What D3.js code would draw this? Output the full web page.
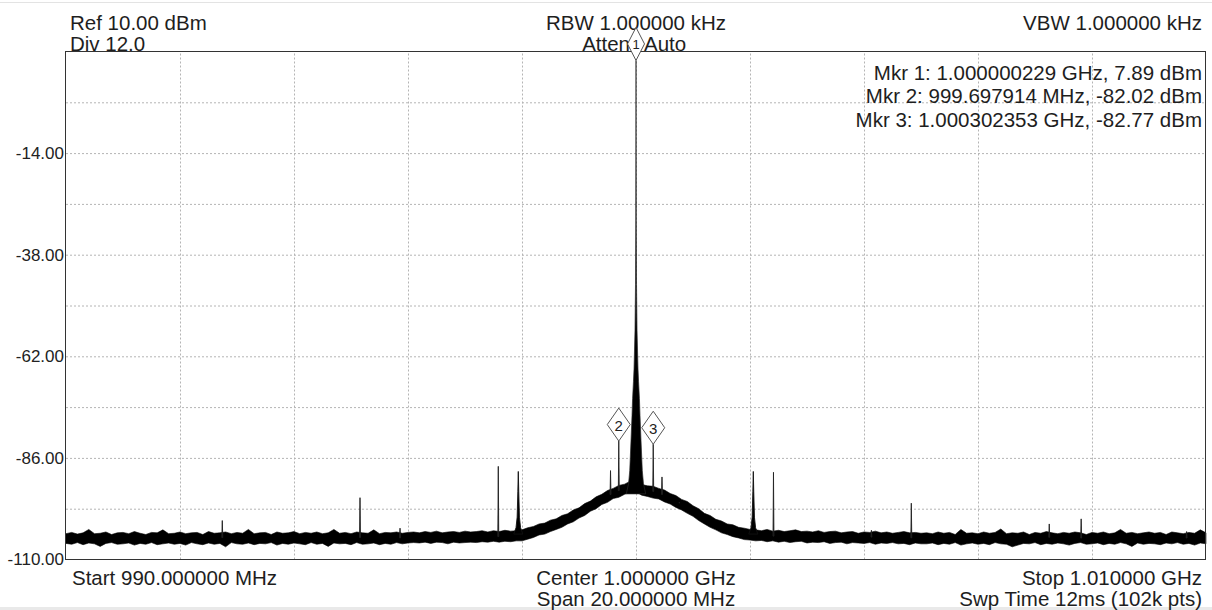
<!DOCTYPE html>
<html>
<head>
<meta charset="utf-8">
<script src="https://cdn.jsdelivr.net/npm/d3@7"></script>
<style>
html,body{margin:0;padding:0;background:#fff;}
svg{display:block;font-family:"Liberation Sans",Arial,Helvetica,sans-serif;}
</style>
</head>
<body>
<svg id="chart" width="1212" height="610"></svg>
<script>
// ---------------- data ----------------
const freqStart = 990, freqStop = 1010;            // MHz
const levelTop = 10, levelBottom = -110, levelDiv = 12; // dBm
const freqGridValues = [990, 992, 994, 996, 998, 1000, 1002, 1004, 1006, 1008, 1010];
const levelGridValues = [-110, -98, -86, -74, -62, -50, -38, -26, -14, -2, 10];
const yTickValues = [-14, -38, -62, -86, -110];
const yTickLabels = ["-14.00", "-38.00", "-62.00", "-86.00", "-110.00"];

const headerLeft = ["Ref 10.00 dBm", "Div 12.0"];
const headerCenter = ["RBW 1.000000 kHz", "Atten Auto"];
const headerRight = ["VBW 1.000000 kHz"];
const footerLeft = ["Start 990.000000 MHz"];
const footerCenter = ["Center 1.000000 GHz", "Span 20.000000 MHz"];
const footerRight = ["Stop 1.010000 GHz", "Swp Time 12ms (102k pts)"];

const markerIds = [1, 2, 3];
const markerFreq = [1000.000229, 999.697914, 1000.302353];   // MHz
const markerLevel = [7.89, -82.02, -82.77];                   // dBm
const markerLabels = [
  "Mkr 1: 1.000000229 GHz, 7.89 dBm",
  "Mkr 2: 999.697914 MHz, -82.02 dBm",
  "Mkr 3: 1.000302353 GHz, -82.77 dBm"
];

// trace envelope (max / min dBm) sampled every 0.1 MHz from 990 to 1010 MHz
const bandStep = 0.1;
const bandMax = [
 -103.9,-103.6,-104.0,-103.7,-102.9,-103.9,-103.8,-103.5,-104.1,-103.7,
 -103.6,-103.9,-103.4,-103.8,-104.1,-103.6,-103.7,-103.0,-103.9,-103.8,
 -103.5,-103.9,-103.7,-103.6,-104.1,-103.4,-103.8,-103.7,-103.5,-103.9,
 -103.6,-103.8,-102.9,-103.9,-103.7,-103.6,-104.1,-103.5,-103.8,-103.7,
 -103.4,-103.9,-103.6,-103.8,-103.5,-103.9,-103.7,-102.9,-103.8,-103.6,
 -103.9,-103.5,-103.7,-103.8,-103.0,-103.9,-103.6,-103.7,-103.5,-103.8,
 -103.6,-103.5,-103.7,-103.4,-103.6,-103.3,-103.7,-103.5,-103.4,-103.6,
 -103.3,-103.5,-103.4,-103.2,-103.5,-103.2,-103.4,-103.1,-103.3,-103.2,
 -103.0,-102.5,-102.2,-101.6,-101.4,-100.7,-100.4,-99.6,-99.2,-98.3,
 -97.8,-96.8,-96.2,-95.2,-94.6,-93.7,-93.2,-92.5,-92.2,-91.5,
 -91.5,-92.3,-92.6,-92.7,-93.2,-93.6,-94.4,-94.9,-95.8,-96.3,
 -97.3,-98.0,-99.1,-99.6,-100.5,-100.9,-101.6,-101.8,-102.4,-102.6,
 -102.9,-103.0,-103.2,-102.9,-103.3,-103.1,-103.4,-103.2,-103.0,-103.4,
 -103.3,-103.5,-103.2,-103.6,-103.4,-103.3,-103.7,-103.5,-103.4,-103.8,
 -103.5,-103.6,-103.3,-103.7,-103.5,-103.8,-103.6,-103.4,-103.7,-103.6,
 -103.8,-103.7,-103.9,-103.5,-103.8,-103.6,-104.1,-102.9,-103.8,-103.7,
 -103.9,-103.5,-103.8,-103.6,-102.8,-103.9,-103.7,-103.8,-103.5,-104.1,
 -103.6,-103.8,-103.4,-103.7,-103.9,-103.6,-103.8,-103.5,-103.7,-104.1,
 -103.6,-103.8,-103.5,-103.9,-103.7,-102.9,-103.8,-103.6,-103.9,-103.7,
 -103.5,-103.8,-103.6,-104.1,-103.5,-103.7,-103.9,-103.6,-103.8,-103.0,
 -103.7
];
const bandMin = [
 -106.2,-106.4,-106.0,-106.5,-106.1,-106.3,-106.9,-106.2,-106.0,-106.4,
 -106.3,-106.1,-106.6,-106.2,-106.4,-106.0,-106.5,-106.3,-106.1,-106.4,
 -106.2,-106.6,-106.0,-106.3,-106.5,-106.1,-106.4,-106.2,-107.0,-106.0,
 -106.3,-106.4,-106.1,-106.5,-106.2,-106.3,-106.0,-106.6,-106.2,-106.4,
 -106.1,-106.3,-106.5,-106.0,-106.4,-106.2,-106.9,-106.1,-106.3,-106.2,
 -106.5,-106.0,-106.4,-106.3,-106.1,-106.5,-106.2,-106.4,-106.0,-106.3,
 -106.1,-106.0,-106.1,-105.9,-106.2,-105.9,-106.0,-106.3,-105.9,-106.1,
 -106.0,-105.9,-106.0,-105.8,-105.9,-105.7,-105.9,-105.7,-105.8,-105.6,
 -105.6,-105.2,-104.8,-104.2,-104.0,-103.4,-102.9,-102.4,-101.6,-101.1,
 -100.2,-99.6,-98.6,-98.0,-97.0,-96.5,-95.6,-95.3,-94.6,-94.2,
 -94.0,-94.8,-95.1,-95.5,-95.7,-96.4,-96.9,-97.7,-98.3,-99.1,
 -99.8,-100.8,-101.6,-102.4,-103.0,-103.7,-104.1,-104.6,-104.9,-105.3,
 -105.4,-105.6,-105.5,-105.8,-105.6,-105.9,-105.7,-106.0,-105.8,-105.7,
 -106.1,-105.9,-106.0,-105.8,-106.2,-106.0,-105.9,-106.3,-106.0,-106.1,
 -106.2,-106.0,-106.4,-106.1,-106.2,-106.0,-106.3,-106.2,-106.5,-106.1,
 -106.3,-106.3,-106.1,-106.5,-106.2,-106.4,-106.0,-106.6,-106.3,-106.1,
 -106.4,-106.2,-106.5,-106.0,-106.3,-106.4,-107.0,-106.6,-106.2,-106.3,
 -106.0,-106.5,-106.2,-106.4,-106.1,-106.3,-106.6,-106.2,-106.0,-106.4,
 -106.3,-106.1,-106.5,-106.2,-106.4,-106.0,-106.3,-106.9,-106.1,-106.4,
 -106.2,-106.3,-106.5,-106.1,-106.3,-106.0,-106.4,-106.2,-106.6,-106.1,
 -106.3
];

// carrier (marker 1) shape: offset from carrier in MHz, level in dBm
const carrierOffset = [-0.17,-0.13,-0.11,-0.088,-0.07,-0.06,-0.045,-0.035,-0.018,-0.009,-0.004,-0.0015,0,
                       0.0015,0.004,0.009,0.018,0.035,0.045,0.06,0.07,0.088,0.11,0.13,0.17];
const carrierLevel  = [-94.5,-92.0,-89.0,-82.0,-76.0,-72.0,-68.0,-65.0,-56.0,-45.0,-30.0,-10.0,7.89,
                       -10.0,-30.0,-45.0,-56.0,-65.0,-68.0,-72.0,-76.0,-82.0,-89.0,-92.0,-94.5];

// narrow spurs
const spurFreq  = [992.742, 995.158, 995.86, 997.584, 999.553, 999.697914, 1000.302353, 1000.456, 1000.76, 1002.412, 1004.13, 1004.83, 1007.25, 1007.81, 1009.66];
const spurLevel = [-100.8, -95.4, -102.6, -88.0, -89.0, -82.02, -82.77, -90.5, -96.5, -89.4, -103.1, -96.7, -101.6, -100.4, -103.4];

// wider spurs (offset MHz -> level dBm)
const wideSpurFreq = [997.935, 1002.058];
const wideSpurOffset = [-0.08, -0.04, -0.02, -0.008, 0, 0.008, 0.02, 0.04, 0.08];
const wideSpurLevelA = [-104.0, -102.5, -100.0, -94.0, -89.2, -94.0, -100.0, -102.5, -104.0];
const wideSpurLevelB = [-104.0, -102.5, -100.0, -94.0, -89.2, -94.0, -100.0, -102.5, -104.0];

// ---------------- drawing ----------------
const W = 1212, H = 610;
const plotL = 66, plotR = 1206, plotT = 51.5, plotB = 559.5;
const FONT = 20.5;
const svg = d3.select("#chart");

const x = d3.scaleLinear().domain([freqStart, freqStop]).range([plotL, plotR]);
const y = d3.scaleLinear().domain([levelBottom, levelTop]).range([plotB, plotT]);

// page edge lines
svg.append("rect").attr("x", 0).attr("y", 2).attr("width", W).attr("height", 1).attr("fill", "#e3e3e3");
svg.append("rect").attr("x", 0).attr("y", 607).attr("width", W).attr("height", 3).attr("fill", "#e9e9e9");

// grid via axes
const gridY = svg.append("g").attr("transform", `translate(${plotL},0)`)
  .call(d3.axisLeft(y).tickValues(levelGridValues.slice(1, -1)).tickSize(-(plotR - plotL)).tickFormat(""));
const gridX = svg.append("g").attr("transform", `translate(0,${plotB})`)
  .call(d3.axisBottom(x).tickValues(freqGridValues.slice(1, -1)).tickSize(-(plotB - plotT)).tickFormat(""));
[gridY, gridX].forEach(g => {
  g.select(".domain").remove();
  g.selectAll(".tick line").attr("stroke", "#b4b4b4").attr("stroke-dasharray", "2,2").attr("stroke-width", 1);
});

// y labels
const yAx = svg.append("g").attr("transform", `translate(${plotL - 2},0)`)
  .call(d3.axisLeft(y).tickValues(yTickValues).tickSize(0).tickPadding(0)
        .tickFormat((d, i) => yTickLabels[i]));
yAx.select(".domain").remove();
yAx.selectAll("text").attr("font-size", 17).attr("fill", "#222")
  .attr("font-family", '"Liberation Sans",Arial,sans-serif');

// trace envelope
const n = Math.min(bandMax.length, bandMin.length);
const bandData = d3.range(n).map(i => ({ f: freqStart + i * bandStep, hi: bandMax[i], lo: bandMin[i] }));
const area = d3.area().x(d => x(d.f)).y0(d => y(d.lo)).y1(d => y(d.hi));
svg.append("path").datum(bandData).attr("d", area)
  .attr("fill", "#000").attr("stroke", "#000").attr("stroke-width", 0.6).attr("stroke-linejoin", "miter");

function bandTopAt(f) {
  const t = (f - freqStart) / bandStep;
  const i = Math.max(0, Math.min(n - 2, Math.floor(t)));
  const a = bandMax[i], b = bandMax[i + 1];
  return a + (b - a) * (t - i);
}

const line = d3.line().x(d => x(d[0])).y(d => y(d[1]));

// carrier
const carrierPts = carrierOffset.map((o, i) => [markerFreq[0] + o, carrierLevel[i]]);
svg.append("path").attr("d", line(carrierPts) + "Z")
  .attr("fill", "#000").attr("stroke", "#2a2a2a").attr("stroke-width", 0.7);

// narrow spurs
const spurHalf = 0.008;
spurFreq.forEach((f, i) => {
  const base = bandTopAt(f) - 1.2;
  const pts = [[f - spurHalf, base], [f, spurLevel[i]], [f + spurHalf, base]];
  svg.append("path").attr("d", line(pts) + "Z")
    .attr("fill", "#111").attr("stroke", "#222").attr("stroke-width", 0.9);
});

// wide spurs
[wideSpurLevelA, wideSpurLevelB].forEach((lv, k) => {
  const pts = wideSpurOffset.map((o, i) => [wideSpurFreq[k] + o, lv[i]]);
  svg.append("path").attr("d", line(pts) + "Z")
    .attr("fill", "#000").attr("stroke", "#111").attr("stroke-width", 0.9);
});

// frame
svg.append("rect").attr("x", plotL - 0.5).attr("y", plotT).attr("width", plotR - plotL)
  .attr("height", plotB - plotT).attr("fill", "none").attr("stroke", "#333").attr("stroke-width", 1);

// header / footer text
const txt = (s, tx, ty, anchor, size) => svg.append("text").attr("x", tx).attr("y", ty)
  .attr("text-anchor", anchor).attr("font-size", size || FONT).attr("fill", "#1e1e1e").text(s);
txt(headerLeft[0], 70, 30, "start");
txt(headerLeft[1], 70, 51, "start");
txt(headerCenter[0], 636, 30, "middle");
// "Atten Auto" is split around the marker-1 diamond, as on the instrument screen
const attenParts = headerCenter[1].split(" ");
txt(attenParts[0], 630, 51, "end");
txt(attenParts[1], 644, 51, "start");
txt(headerRight[0], 1202, 30, "end");
txt(footerLeft[0], 72, 585, "start");
txt(footerCenter[0], 636, 585, "middle");
txt(footerCenter[1], 636, 606, "middle");
txt(footerRight[0], 1202, 585, "end");
txt(footerRight[1], 1202, 606, "end");

// marker readouts
const mkrBaselines = [80, 103, 126.5];
markerLabels.forEach((s, i) => txt(s, 1202, mkrBaselines[i], "end"));

// marker diamonds
const diamondW = [17, 23, 23], diamondH = 33;
markerIds.forEach((id, i) => {
  const cx = x(markerFreq[i]), ty = y(markerLevel[i]);
  const w = diamondW[i];
  const p = `M${cx},${ty} L${cx - w / 2},${ty - diamondH / 2} L${cx},${ty - diamondH} L${cx + w / 2},${ty - diamondH / 2} Z`;
  svg.append("path").attr("d", p).attr("fill", "#fff").attr("stroke", "#555").attr("stroke-width", 1);
  svg.append("text").attr("x", cx).attr("y", ty - diamondH / 2 + 1).attr("text-anchor", "middle")
    .attr("dominant-baseline", "central").attr("font-size", i === 0 ? 13 : 15).attr("fill", "#222").text(id);
});
</script>
</body>
</html>
